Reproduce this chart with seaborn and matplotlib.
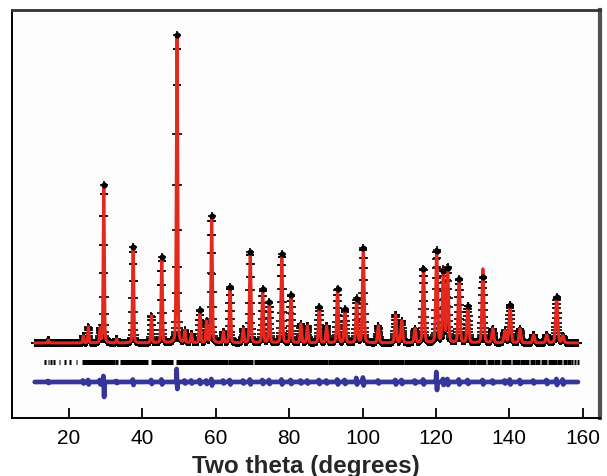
import numpy as np
import pandas as pd
import matplotlib
matplotlib.use("Agg")
import matplotlib.pyplot as plt
import seaborn as sns

# ---------------- data ----------------
# Bragg peak positions (two theta, degrees)
peak_pos = [14.4, 23.9, 25.3, 28.5, 29.5, 33.0, 37.5, 42.5, 45.3, 49.45,
            51.6, 53.4, 55.7, 57.5, 58.9, 62.1, 63.9, 67.5, 69.4, 72.8,
            74.6, 78.0, 80.5, 83.2, 85.0, 88.2, 90.2, 93.2, 95.2, 98.4,
            100.2, 104.3, 109.0, 110.7, 114.3, 116.6, 120.2, 122.0, 123.2, 126.3,
            128.7, 132.8, 135.5, 138.8, 140.2, 142.9, 146.6, 150.2, 152.9, 154.6]
# calculated peak heights above background (counts)
calc_height = [30, 70, 160, 140, 1580, 40, 960, 270, 860, 3080,
               120, 90, 330, 210, 1270, 110, 560, 140, 910, 540,
               410, 890, 480, 190, 170, 360, 170, 540, 340, 440,
               950, 170, 280, 220, 140, 740, 920, 720, 750, 640,
               370, 740, 140, 120, 380, 140, 80, 80, 460, 70]
# observed peak heights above background (counts)
obs_height = [30, 70, 160, 140, 1580, 40, 960, 270, 860, 3080,
              120, 90, 330, 210, 1270, 110, 560, 140, 910, 540,
              410, 890, 480, 190, 170, 360, 170, 540, 340, 440,
              950, 170, 280, 220, 140, 740, 920, 720, 750, 640,
              370, 660, 140, 120, 380, 140, 80, 80, 460, 70]
# residual (obs - calc) excursions at each peak (counts): up / down
diff_up = [10, 15, 20, 20, 60, 10, 25, 20, 25, 130,
           15, 15, 20, 15, 30, 15, 20, 15, 25, 20,
           20, 25, 20, 15, 15, 20, 15, 25, 20, 40,
           45, 15, 20, 20, 15, 25, 100, 30, 30, 25,
           20, 20, 15, 15, 25, 20, 15, 20, 30, 25]
diff_down = [10, 15, 25, 25, 150, 10, 30, 20, 25, 70,
             15, 15, 20, 20, 35, 15, 25, 15, 25, 20,
             20, 25, 20, 15, 15, 20, 15, 25, 20, 25,
             35, 15, 25, 20, 15, 25, 80, 30, 30, 25,
             20, 25, 15, 15, 25, 20, 15, 20, 30, 25]
background = 500
diff_offset = 110
tick_level = 310
scan_start, scan_end = 10.7, 158.7
# reflection marker segments (start, end) in degrees
tick_start = [13.2, 14.2, 14.9, 15.8, 17.2, 18.7, 20.1, 21.9, 23.7, 32.6,
              33.8, 42.3, 49.3, 63.4, 70.3, 90.7, 104.6, 111.4, 129.1, 131.0,
              133.8, 135.9, 137.6, 140.6, 143.0, 145.5, 147.1, 148.5, 150.4, 153.1,
              154.5, 155.8, 156.9, 157.5, 158.3]
tick_end = [13.7, 14.6, 15.4, 16.3, 17.6, 19.1, 20.5, 22.3, 32.45, 33.3,
            41.5, 48.5, 63.25, 70.15, 90.55, 104.45, 111.25, 128.95, 130.85, 133.65,
            135.75, 137.45, 140.45, 142.85, 145.35, 146.95, 148.35, 150.25, 152.95, 154.35,
            155.65, 156.75, 157.35, 158.15, 159.0]
xtick_values = [20, 40, 60, 80, 100, 120, 140, 160]
xlabel = "Two theta (degrees)"

# ---------------- profile rendering ----------------
def profile(x, heights):
    y = np.full_like(x, float(background))
    for p, h in zip(peak_pos, heights):
        w = 0.30 + 0.0022 * p
        g = np.exp(-4 * np.log(2) * ((x - p) / w) ** 2)
        l = 1.0 / (1.0 + 4 * ((x - p) / w) ** 2)
        y += h * (0.75 * g + 0.25 * l)
    return y

def residual(x):
    y = np.full_like(x, float(diff_offset))
    for p, u, d in zip(peak_pos, diff_up, diff_down):
        y += u * np.exp(-((x - p + 0.1) / 0.07) ** 2)
        y -= d * np.exp(-((x - p - 0.1) / 0.07) ** 2)
    return y

x_fine = np.arange(scan_start, scan_end, 0.01)
x_obs = np.arange(scan_start, scan_end, 0.05)
calc_df = pd.DataFrame({"tt": x_fine, "I": profile(x_fine, calc_height)})
obs_df = pd.DataFrame({"tt": x_obs, "I": profile(x_obs, obs_height)})
diff_df = pd.DataFrame({"tt": x_fine, "I": residual(x_fine)})
top_df = pd.DataFrame({"tt": peak_pos,
                       "I": [background + h for h in obs_height]})
top_df = top_df[np.array(obs_height) > 300]

# ---------------- figure ----------------
sns.set_style("white")
plt.rcParams["font.family"] = ["Liberation Sans", "DejaVu Sans"]

fig = plt.figure(figsize=(6.07, 4.77), dpi=100)
ax = fig.add_axes([12 / 607, 58 / 477, 588 / 607, 408 / 477])
ax.set_facecolor("#fcfcfc")

sns.scatterplot(data=obs_df, x="tt", y="I", marker="+", s=34, color="black",
                linewidth=1.2, ax=ax, zorder=2, legend=False)
sns.lineplot(data=calc_df, x="tt", y="I", color="#e5281e", lw=2.2,
             estimator=None, sort=False, ax=ax, zorder=3, legend=False)
sns.scatterplot(data=top_df, x="tt", y="I", marker="o", s=16, color="black",
                edgecolor="black", ax=ax, zorder=4, legend=False)
ax.hlines(y=[tick_level] * len(tick_start), xmin=tick_start, xmax=tick_end,
          colors="black", lw=3.6, zorder=3)
sns.lineplot(data=diff_df, x="tt", y="I", color="#36369a", lw=3.4,
             estimator=None, sort=False, ax=ax, zorder=3, legend=False)

ax.set_xlim(4.5, 164.7)
ax.set_ylim(-250, 3830)
ax.set_yticks([])
ax.set_xticks(xtick_values)
ax.set_xticklabels([str(v) for v in xtick_values])
ax.tick_params(axis="x", direction="in", length=7.5, width=1.3, pad=7,
               labelsize=15, colors="black", bottom=True)
ax.set_xlabel(xlabel, fontsize=17.5, fontweight="bold", labelpad=5)
ax.set_ylabel("")

ax.spines["left"].set_color("black")
ax.spines["left"].set_linewidth(1.4)
ax.spines["bottom"].set_color("black")
ax.spines["bottom"].set_linewidth(1.4)
ax.spines["top"].set_color("#333333")
ax.spines["top"].set_linewidth(2.0)
ax.spines["right"].set_color("#505050")
ax.spines["right"].set_linewidth(3.0)

fig.savefig("out.png", dpi=100)
